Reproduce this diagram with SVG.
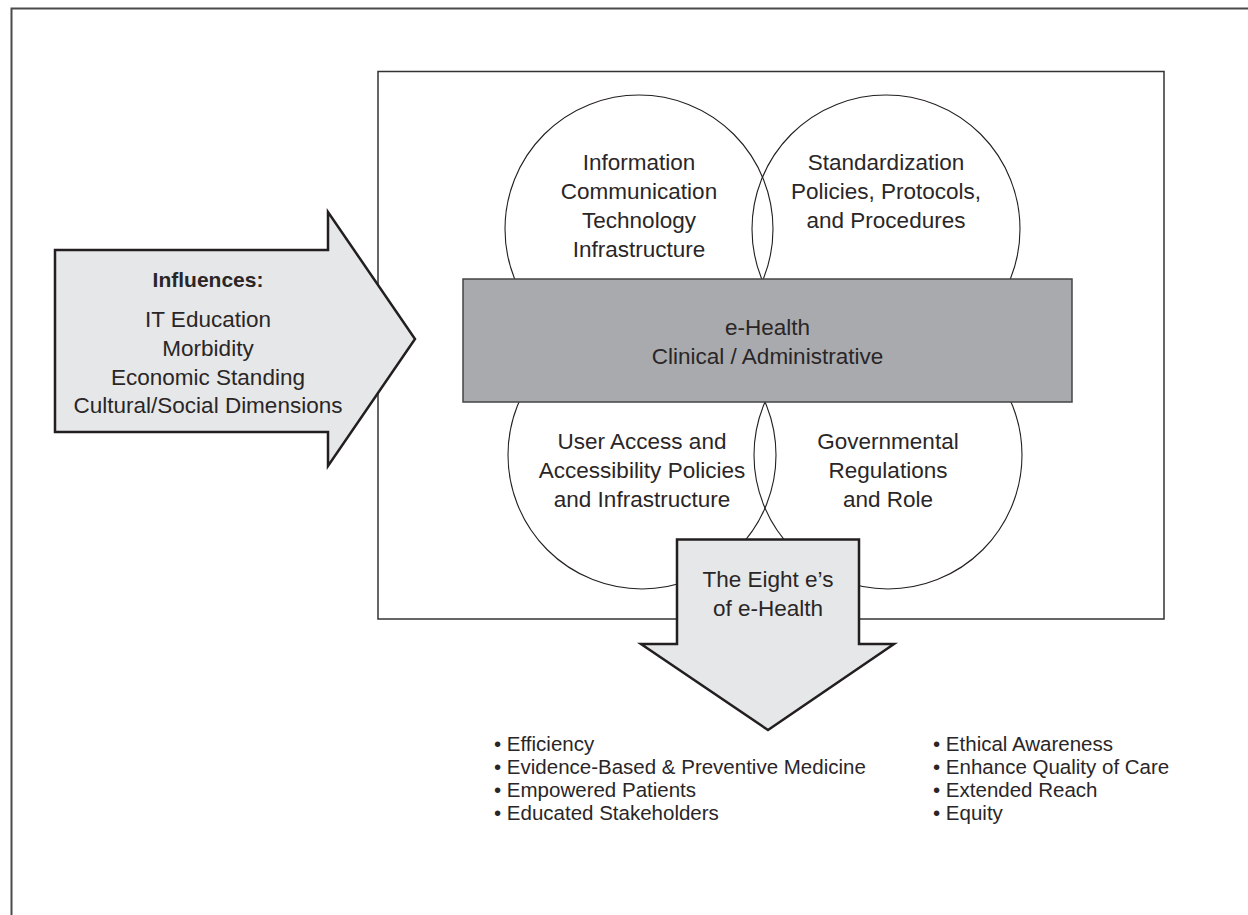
<svg xmlns="http://www.w3.org/2000/svg" width="1248" height="915" viewBox="0 0 1248 915">
<style>
text{font-family:"Liberation Sans",Arial,sans-serif;fill:#2a2627;}
.lbl{font-size:22.5px;text-anchor:middle;}
.bold{font-size:21px;font-weight:bold;text-anchor:middle;}
.bul{font-size:20.5px;}
.circ{fill:none;stroke:#231f20;stroke-width:1.1;}
.arrow{fill:#e6e7e8;stroke:#231f20;stroke-width:2.5;stroke-linejoin:miter;}
</style>
<rect width="1248" height="915" fill="#ffffff"/>
<g id="frame">
<polyline points="11.5,915 11.5,8.5 1248,8.5" fill="none" stroke="#4a4a4a" stroke-width="2"/>
</g>
<g id="inner-box">
<rect x="378" y="71.5" width="786" height="547.5" fill="none" stroke="#333333" stroke-width="1.5"/>
</g>
<g id="circle-ict">
<circle class="circ" cx="639" cy="229" r="134"/>
<text class="lbl" x="639" y="170">Information</text>
<text class="lbl" x="639" y="199">Communication</text>
<text class="lbl" x="639" y="228">Technology</text>
<text class="lbl" x="639" y="257">Infrastructure</text>
</g>
<g id="circle-standardization">
<circle class="circ" cx="886" cy="229" r="134"/>
<text class="lbl" x="886" y="170">Standardization</text>
<text class="lbl" x="886" y="199">Policies, Protocols,</text>
<text class="lbl" x="886" y="228">and Procedures</text>
</g>
<g id="circle-access">
<circle class="circ" cx="642" cy="455" r="134"/>
<text class="lbl" x="642" y="449">User Access and</text>
<text class="lbl" x="642" y="478">Accessibility Policies</text>
<text class="lbl" x="642" y="507">and Infrastructure</text>
</g>
<g id="circle-government">
<circle class="circ" cx="888" cy="455" r="134"/>
<text class="lbl" x="888" y="449">Governmental</text>
<text class="lbl" x="888" y="478">Regulations</text>
<text class="lbl" x="888" y="507">and Role</text>
</g>
<g id="ehealth-core">
<rect x="463" y="279" width="609" height="123" fill="#a9aaad" stroke="#444444" stroke-width="1.5"/>
<text class="lbl" x="767.5" y="335">e-Health</text>
<text class="lbl" x="767.5" y="364">Clinical / Administrative</text>
</g>
<g id="connectors"></g>
<g id="influences">
<polygon class="arrow" points="55,250 328,250 328,212 415,339 328,466 328,432 55,432"/>
<text class="bold" x="208" y="287">Influences:</text>
<text class="lbl" x="208" y="327">IT Education</text>
<text class="lbl" x="208" y="356">Morbidity</text>
<text class="lbl" x="208" y="385">Economic Standing</text>
<text class="lbl" x="208" y="413">Cultural/Social Dimensions</text>
</g>
<g id="eight-es">
<polygon class="arrow" points="677,539.5 859,539.5 859,644 894,644 768,730 641,644 677,644"/>
<text class="lbl" x="768" y="587">The Eight e’s</text>
<text class="lbl" x="768" y="616">of e-Health</text>
</g>
<g id="outcomes">
<text class="bul" x="494" y="751">•  Efficiency</text>
<text class="bul" x="494" y="774">•  Evidence-Based &amp; Preventive Medicine</text>
<text class="bul" x="494" y="797">•  Empowered Patients</text>
<text class="bul" x="494" y="820">•  Educated Stakeholders</text>
<text class="bul" x="933" y="751">•  Ethical Awareness</text>
<text class="bul" x="933" y="774">•  Enhance Quality of Care</text>
<text class="bul" x="933" y="797">•  Extended Reach</text>
<text class="bul" x="933" y="820">•  Equity</text>
</g>
</svg>
